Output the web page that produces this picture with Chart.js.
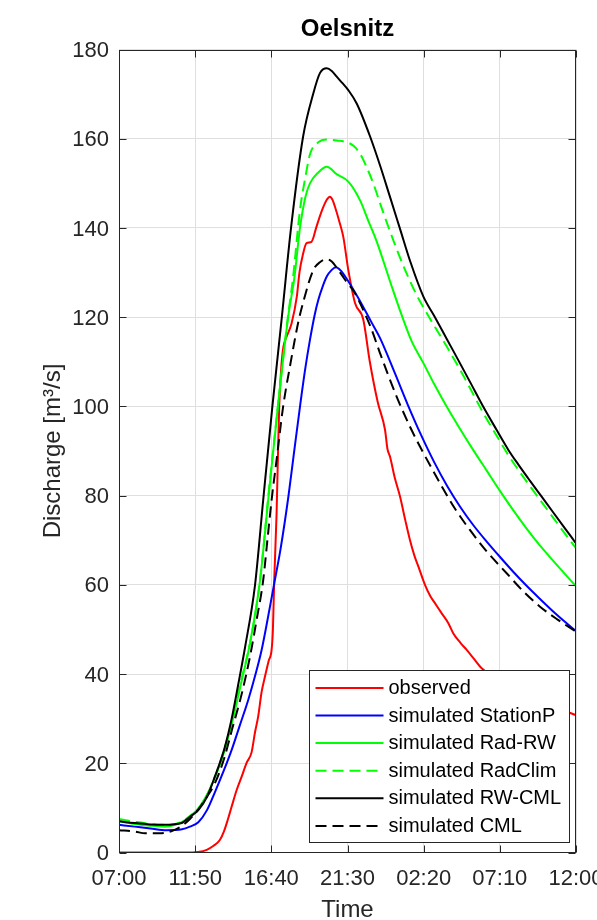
<!DOCTYPE html>
<html>
<head>
<meta charset="utf-8">
<title>Oelsnitz</title>
<script src="https://cdn.jsdelivr.net/npm/chart.js@4.4.1/dist/chart.umd.min.js"></script>
<style>
  html, body { margin: 0; padding: 0; background: #ffffff; }
  canvas { display: block; }
</style>
</head>
<body>
<canvas id="c" width="597" height="920"></canvas>
<script>
// Time axis: minutes after 07:00 on the first day
const timeTickMin = [0, 290, 580, 870, 1160, 1450, 1740];
const timeTickLabels = ['07:00', '11:50', '16:40', '21:30', '02:20', '07:10', '12:00'];

// observed discharge [m³/s]
const obsT = [0,280,300,334,360,384,400,415,429,448,467,485,505,518,530,543,556,570,581,586,591,600,606,610,619,626,638,657,677,687,700,714,733,752,770,791,803,813,822,841,854,873,899,930,955,985,1013,1022,1032,1050,1070,1090,1108,1125,1140,1165,1185,1203,1230,1254,1273,1300,1324,1350,1381,1450,1530,1620,1740];
const obsQ = [0,0,0.1,0.6,1.5,2.8,4.8,7.5,10.3,14,17,20,22.5,27,30.5,36,39.5,43,45.4,50,61,76,91,100,109.7,113.4,115.6,118.6,124.6,130,134,136.6,136.9,140.3,143.5,146.3,147,146.3,144.8,141,138,130.6,123.1,119.5,110,101,94.7,90.5,88.7,84,79.8,74.5,70,66.5,64.1,60,57.5,55.9,53.5,51.4,49.1,47,45.4,43.5,41.3,38.5,36,33.5,30.8];

// simulated with station precipitation
const stationT = [0,60,120,180,240,270,302,335,365,400,429,460,492,520,543,565,590,615,645,665,689,708,727,745,759,775,791,810,826,845,867,900,930,960,994,1050,1100,1150,1200,1250,1300,1350,1400,1450,1500,1550,1600,1650,1700,1740];
const stationQ = [6.2,5.8,5.4,5.0,5.2,5.8,6.8,9.5,13.5,18.5,23,28.5,34.2,40,45.4,52,60,68,79.8,89,99.9,108,114.9,120.5,123.9,126.8,129.1,130.6,131.2,130.4,128.6,125.4,122.3,119,115.3,107.5,100.3,93.6,87.5,82.1,77.4,73.3,69.7,66.3,63.0,59.9,57.0,54.2,51.6,49.6];

// simulated with radar RW product
const radRwT = [0,60,120,175,220,250,280,310,340,370,400,430,465,499,537,568,605,644,668,689,710,727,760,791,830,873,917,950,981,1035,1076,1115,1159,1200,1248,1298,1349,1400,1451,1500,1552,1600,1650,1700,1740];
const radRwQ = [7.0,6.4,6.0,5.8,6.3,7.2,8.5,10.5,13.5,17.5,22.5,29,38,47,61,79,100,120,129,140,147,150,152.5,153.7,152,150.4,146.3,141.5,137,127.5,120.5,114.5,109.7,105.0,99.9,95.0,90.2,85.6,81.0,76.8,72.6,69.0,65.6,62.3,59.7];

// simulated with RADOLAN climatology
const radClimT = [0,60,120,175,239,270,302,335,365,400,430,465,499,537,568,605,643,662,689,710,727,759,791,830,873,895,917,940,968,1000,1044,1090,1133,1159,1203,1250,1298,1340,1387,1438,1482,1520,1565,1610,1650,1700,1740];
const radClimQ = [7.5,6.9,6.4,6.2,6.9,8.2,9.8,12.8,17,23,29.5,38.5,47,61,79.5,100,120,128.5,144,151.5,156.5,159.2,159.8,159.6,159.1,158.3,156.7,154,150,144.5,137.3,130.5,125,122.2,117.8,113.2,108.3,103.7,98.5,93.4,89.1,85.8,82.1,78.5,75.3,71.3,68.2];

// simulated with radar adjusted by commercial microwave links
const rwCmlT = [0,60,120,175,239,270,302,335,365,400,429,455,480,518,549,584,620,655,701,740,765,791,810,829,850,873,905,956,994,1030,1070,1110,1159,1203,1250,1298,1340,1387,1438,1482,1520,1565,1610,1650,1700,1740];
const rwCmlQ = [7.0,6.6,6.3,6.2,6.6,8.0,9.5,12.5,17,23,30,38,46,60,79,100,120,140,160.5,170.2,174.7,175.8,175.2,173.9,172.5,170.9,167.9,160.5,154,147.3,139.8,132.3,124.6,120,114.9,109.7,105.1,99.9,94.7,90.3,87.0,83.3,79.7,76.5,72.5,69.3];

// simulated with microwave links only
const cmlT = [0,60,100,150,175,205,240,270,300,335,365,400,430,467,499,525,549,565,581,600,625,651,683,702,740,765,790,810,830,850,870,892,930,960,994,1057,1114,1146,1222,1280,1336,1400,1476,1540,1603,1670,1740];
const cmlQ = [5.0,4.7,4.3,4.3,4.4,4.9,6.0,7.5,9.5,12.5,15.5,21,27.5,35.5,44,52.5,61,70,79,88,100,109,119,123.5,130.6,132.3,133,132.5,131,129.3,127.6,126,121.6,117.5,111.9,102.2,94.7,91,82.8,77,72.3,67.5,62.6,58.5,55.1,52.2,49.5];

const FONT = "'Liberation Sans', Arial, Helvetica, sans-serif";
const AXIS_COLOR = '#262626';
const GRID_COLOR = '#dfdfdf';
const DASH = [11, 6];

const series = [
  { label: 'observed',            t: obsT,      q: obsQ,      color: '#ff0000', dash: [] },
  { label: 'simulated StationP',  t: stationT,  q: stationQ,  color: '#0000ff', dash: [] },
  { label: 'simulated Rad-RW',    t: radRwT,    q: radRwQ,    color: '#00ff00', dash: [] },
  { label: 'simulated RadClim',   t: radClimT,  q: radClimQ,  color: '#00ff00', dash: DASH },
  { label: 'simulated RW-CML',    t: rwCmlT,    q: rwCmlQ,    color: '#000000', dash: [] },
  { label: 'simulated CML',       t: cmlT,      q: cmlQ,      color: '#000000', dash: DASH }
];

const toPoints = (ts, qs) => ts.map((t, i) => ({ x: t, y: qs[i] }));

// Box around the axes with inward tick marks on all four sides
const axesFrame = {
  id: 'axesFrame',
  afterDatasetsDraw(chart) {
    const { ctx, chartArea: a, scales: { x, y } } = chart;
    const TL = 7;
    const L = Math.round(a.left) + 0.5, R = Math.round(a.right) - 0.5;
    const T = Math.round(a.top) + 0.5, B = Math.round(a.bottom) - 0.5;
    ctx.save();
    ctx.strokeStyle = AXIS_COLOR;
    ctx.lineWidth = 1;
    ctx.beginPath();
    x.ticks.forEach(tk => {
      const px = Math.round(x.getPixelForValue(tk.value)) + 0.5;
      ctx.moveTo(px, B); ctx.lineTo(px, B - TL);
      ctx.moveTo(px, T); ctx.lineTo(px, T + TL);
    });
    y.ticks.forEach(tk => {
      const py = Math.round(y.getPixelForValue(tk.value)) + 0.5;
      ctx.moveTo(L, py); ctx.lineTo(L + TL, py);
      ctx.moveTo(R, py); ctx.lineTo(R - TL, py);
    });
    ctx.stroke();
    ctx.strokeRect(L, T, R - L, B - T);
    ctx.restore();
  }
};

// Legend box in the lower right corner of the plot area
const insetLegend = {
  id: 'insetLegend',
  afterDraw(chart) {
    const { ctx, chartArea: a } = chart;
    const ds = chart.data.datasets;
    ctx.save();
    ctx.font = '20px ' + FONT;
    const textW = Math.max(...ds.map(d => ctx.measureText(d.label).width));
    const padL = 6, sample = 68, gap = 5, padR = 9, rowH = 27.6, padV = 3.6;
    const w = padL + sample + gap + textW + padR;
    const h = ds.length * rowH + 2 * padV;
    const right = Math.round(a.right - 6.7) + 0.5;
    const bottom = Math.round(a.bottom - 10.8) + 0.5;
    const left = Math.round(right - w) + 0.5;
    const top = Math.round(bottom - h) + 0.5;
    ctx.fillStyle = '#ffffff';
    ctx.fillRect(left, top, right - left, bottom - top);
    ctx.strokeStyle = AXIS_COLOR;
    ctx.lineWidth = 1;
    ctx.strokeRect(left, top, right - left, bottom - top);
    ds.forEach((d, i) => {
      const cy = top + padV + rowH * (i + 0.5);
      ctx.beginPath();
      ctx.setLineDash(d.borderDash || []);
      ctx.strokeStyle = d.borderColor;
      ctx.lineWidth = 2;
      ctx.moveTo(left + padL, cy);
      ctx.lineTo(left + padL + sample, cy);
      ctx.stroke();
      ctx.setLineDash([]);
      ctx.fillStyle = '#000000';
      ctx.textAlign = 'left';
      ctx.textBaseline = 'middle';
      ctx.fillText(d.label, left + padL + sample + gap, cy + 0.5);
    });
    ctx.restore();
  }
};

new Chart(document.getElementById('c'), {
  type: 'line',
  data: {
    datasets: series.map((s, i) => ({
      label: s.label,
      data: toPoints(s.t, s.q),
      borderColor: s.color,
      backgroundColor: s.color,
      borderDash: s.dash,
      borderWidth: 2,
      pointRadius: 0,
      pointHoverRadius: 0,
      fill: false,
      cubicInterpolationMode: 'monotone',
      order: series.length - i
    }))
  },
  options: {
    responsive: false,
    animation: false,
    devicePixelRatio: 1,
    events: [],
    layout: { padding: { left: 0, right: 21, top: 0, bottom: 0 } },
    plugins: {
      legend: { display: false },
      tooltip: { enabled: false },
      title: {
        display: true,
        text: 'Oelsnitz',
        fullSize: false,
        color: '#000000',
        font: { family: FONT, size: 24, weight: 'bold', lineHeight: 1.2 },
        padding: { top: 14.6, bottom: 6.1 }
      }
    },
    scales: {
      x: {
        type: 'linear',
        min: 0,
        max: 1740,
        afterBuildTicks: sc => { sc.ticks = timeTickMin.map(v => ({ value: v })); },
        afterFit: sc => {
          sc.height = 67.5;
          sc.paddingLeft = 0;
          sc.paddingRight = 0;
        },
        ticks: {
          autoSkip: false,
          maxRotation: 0,
          padding: 13.3,
          color: AXIS_COLOR,
          font: { family: FONT, size: 22, lineHeight: 1.2 },
          callback: v => timeTickLabels[timeTickMin.indexOf(v)]
        },
        grid: { color: GRID_COLOR, lineWidth: 1, drawTicks: false },
        border: { display: false },
        title: {
          display: true,
          text: 'Time',
          color: AXIS_COLOR,
          font: { family: FONT, size: 24, lineHeight: 0.8 },
          padding: { top: 0, bottom: 0 }
        }
      },
      y: {
        type: 'linear',
        min: 0,
        max: 180,
        afterFit: sc => {
          sc.width = 119;
          sc.paddingTop = 0;
          sc.paddingBottom = 0;
        },
        ticks: {
          stepSize: 20,
          padding: 10,
          labelOffset: 1.5,
          color: AXIS_COLOR,
          font: { family: FONT, size: 22, lineHeight: 1.2 }
        },
        grid: { color: GRID_COLOR, lineWidth: 1, drawTicks: false },
        border: { display: false },
        title: {
          display: true,
          text: 'Discharge [m³/s]',
          color: AXIS_COLOR,
          font: { family: FONT, size: 24, lineHeight: 1.2 },
          padding: { top: 39, bottom: 0 }
        }
      }
    }
  },
  plugins: [axesFrame, insetLegend]
});
</script>
</body>
</html>
